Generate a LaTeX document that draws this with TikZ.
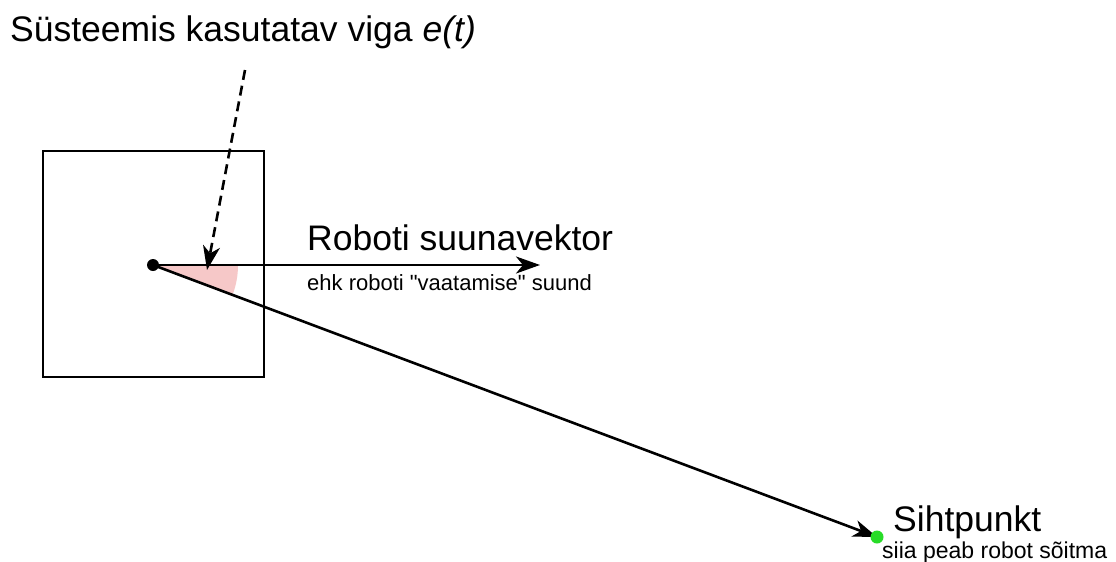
\documentclass[tikz,border=0pt]{standalone}
\usepackage{fontspec}
\setmainfont{Liberation Sans}
\usetikzlibrary{positioning, arrows.meta, calc}

\definecolor{nurk}{RGB}{246,200,200}
\definecolor{sihtroheline}{RGB}{40,220,40}

\tikzset{
  vec/.style={line width=2.6pt, -{Stealth[length=24pt, width=17pt, inset=7pt]}},
  big/.style={font=\fontsize{35.5}{38}\selectfont, inner sep=0pt},
  small/.style={font=\fontsize{22}{24}\selectfont, inner sep=0pt}
}

\begin{document}
\begin{tikzpicture}[x=1pt, y=-1pt]
\fill[white] (0,0) rectangle (1116,562);
\useasboundingbox (0,0) rectangle (1116,562);

% robot body and its centre
\draw[line width=2.6pt] (43,151) rectangle (264,377);
\coordinate (robot) at (153,265);
\coordinate (suund) at (540,265);
\coordinate (siht) at (877,537);

% error angle between heading and target
\fill[nurk] (robot) -- ++(85,0) arc[start angle=0, end angle=20.5, radius=85] -- cycle;

\draw[vec] (robot) -- (suund);
\draw[vec] (robot) -- (siht);
\fill (robot) circle(6);
\fill[sihtroheline] (siht) circle(6.5);

% labels
\node[big, anchor=base west] (viga) at (10,41) {Süsteemis kasutatav viga \textit{e(t)}};
\node[big, anchor=base west] (suunavektor) at (307,250) {Roboti suunavektor};
\node[small, anchor=base west] (vaade) at (307,290) {ehk roboti \textquotedbl vaatamise\textquotedbl{} suund};
\node[big, anchor=base west] (sihtpunkt) at (893,531) {Sihtpunkt};
\node[small, anchor=base west, font=\fontsize{23}{25}\selectfont] (soit) at (882,558) {siia peab robot sõitma};

\coordinate (vigaots) at (245,70);
\draw[vec, dashed, dash pattern=on 10pt off 6pt] (vigaots) -- (207,270);
\end{tikzpicture}
\end{document}
